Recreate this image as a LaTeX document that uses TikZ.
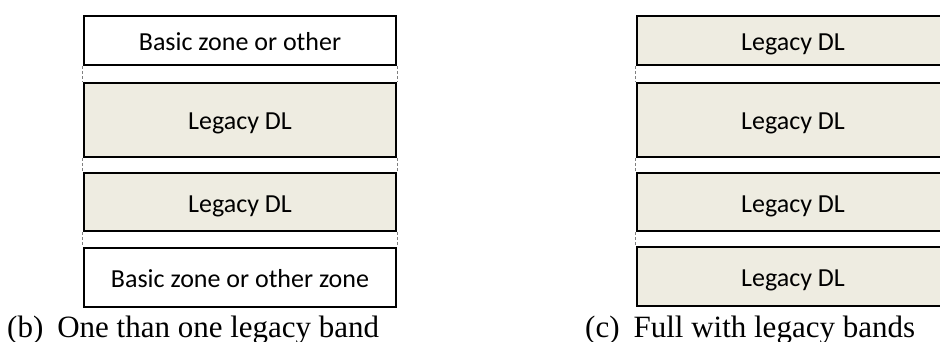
\documentclass[tikz,border=0pt]{standalone}
\usepackage{fontspec}
\setmainfont{Liberation Serif}
\newfontfamily\boxfont{Carlito}
\definecolor{legacybg}{HTML}{EEECE1}

\begin{document}
\begin{tikzpicture}[x=1pt,y=-1pt,
  band/.style={draw,line width=2.5pt,minimum width=312pt,inner sep=0pt,text height=20pt,text depth=0pt,font=\boxfont\fontsize{26}{30}\selectfont},
  legacy/.style={band,fill=legacybg},
  gap/.style={densely dashed,gray,line width=0.6pt},
  caption/.style={anchor=base west,inner sep=0pt,font=\fontsize{31}{36}\selectfont}]
\useasboundingbox (0,0) rectangle (940,342);
% (b) one than one legacy band
\draw node[band,minimum height=49pt] (b1) at (240,40.5) {Basic zone or other};
\draw node[legacy,minimum height=74pt] (b2) at (240,120) {Legacy DL};
\draw node[legacy,minimum height=58pt] (b3) at (240,202) {Legacy DL};
\draw node[band,minimum height=59pt] (b4) at (240,277.5) {Basic zone or other zone};
\draw[gap] (b1.south west) -- (b2.north west);
\draw[gap] (b2.south west) -- (b3.north west);
\draw[gap] (b3.south west) -- (b4.north west);
\draw[gap] (b1.south east) -- (b2.north east);
\draw[gap] (b2.south east) -- (b3.north east);
\draw[gap] (b3.south east) -- (b4.north east);
\node[caption] (capb) at (7,337) {(b)\hspace{.45em}One than one legacy band};
% (c) full with legacy bands
\draw node[legacy,minimum height=49pt] (c1) at (793,40.5) {Legacy DL};
\draw node[legacy,minimum height=74pt] (c2) at (793,120) {Legacy DL};
\draw node[legacy,minimum height=58pt] (c3) at (793,202) {Legacy DL};
\draw node[legacy,minimum height=59pt] (c4) at (793,276.5) {Legacy DL};
\draw[gap] (c1.south west) -- (c2.north west);
\draw[gap] (c2.south west) -- (c3.north west);
\draw[gap] (c3.south west) -- (c4.north west);
\node[caption] (capc) at (585,337) {(c)\hspace{.45em}Full with legacy bands};
\end{tikzpicture}
\end{document}
